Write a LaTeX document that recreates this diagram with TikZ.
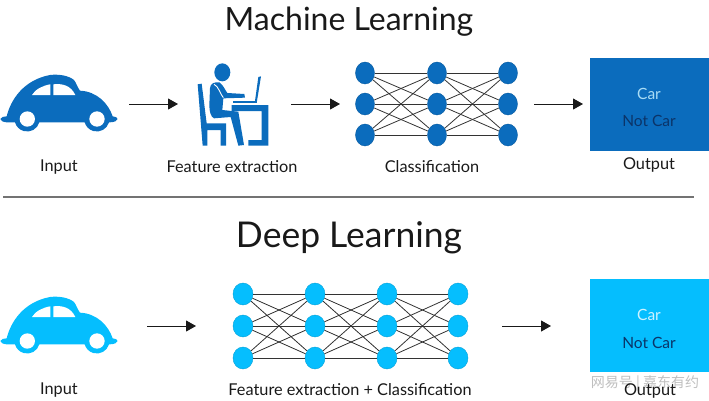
\documentclass[tikz,border=0pt]{standalone}
\usepackage{fontspec}
\setmainfont{Lato}
\newfontfamily\cjk{Noto Sans CJK SC}
\usetikzlibrary{arrows.meta,shapes.geometric}
\definecolor{mlblue}{HTML}{0B6CBD}
\definecolor{dlblue}{HTML}{05BEFE}
\definecolor{carlight}{HTML}{A9DCF5}
\definecolor{cardark}{HTML}{0B3468}
\tikzset{
    neuron/.style={ellipse, fill=#1, draw=#1!85!black, line width=0.4pt, inner sep=0pt, minimum width=19pt, minimum height=22pt},
    link/.style={draw=black!80, line width=0.8pt},
    flow/.style={-{Triangle[length=10pt,width=11pt]}, line width=1pt, black!90},
    title/.style={text=black!90},
    label/.style={font=\fontsize{16.3}{18}\selectfont, text=black!90},
    boxtext/.style={font=\fontsize{15.5}{18}\selectfont},
    pics/carshape/.style={code={
        \fill[#1] (1,207) .. controls (3,201) and (12,199) .. (20,199)
            .. controls (32,150) and (70,90) .. (150,75)
            .. controls (175,72) and (205,76) .. (222,90)
            .. controls (230,100) and (232,112) .. (240,122)
            .. controls (290,124) and (325,160) .. (338,199)
            .. controls (346,199) and (352,203) .. (353,207)
            .. controls (352,213) and (344,216) .. (330,217)
            -- (327,217) arc[start angle=16, end angle=164, radius=38]
            -- (118,217) arc[start angle=16, end angle=164, radius=38]
            -- (20,217) .. controls (10,216) and (2,213) .. (1,207) -- cycle;
        \fill[white] (82,207) circle[radius=23] (291,207) circle[radius=23];
        \fill[white] (96,135) .. controls (105,118) and (130,106) .. (151,103) -- (151,135) -- cycle;
        \fill[white] (160,103) .. controls (185,100) and (212,105) .. (226,135) -- (160,135) -- cycle;
    }},
    pics/deskman/.style={code={
        \fill[#1] (97,52) ellipse[x radius=24, y radius=27];
        \fill[#1] (60,100) .. controls (60,85) and (75,80) .. (88,82)
            .. controls (100,90) and (105,105) .. (112,114) -- (163,117) -- (165,128) -- (100,130)
            -- (97,165) -- (145,170) -- (162,270) -- (145,272) -- (122,186) -- (72,190)
            .. controls (62,185) and (58,170) .. (58,150) -- cycle;
        \draw[white, line width=0.9pt] (72,88) .. controls (85,92) and (92,120) .. (100,128);
        \fill[#1] (23,88) -- (35,86) -- (50,205) -- (108,205) -- (108,272) -- (92,272) -- (92,225)
            -- (52,225) -- (52,272) -- (38,272) -- cycle;
        \fill[#1] (205,66) -- (213,64) -- (201,138) -- (195,138) -- cycle;
        \fill[#1] (130,137) -- (200,137) -- (200,145) -- (130,145) -- cycle;
        \fill[#1] (125,150) -- (235,150) -- (235,272) -- (175,272) -- (175,255) -- (215,255) -- (215,168) -- (125,168) -- cycle;
    }},
}
\begin{document}
\begin{tikzpicture}[x=1pt,y=-1pt]
    \useasboundingbox (0,0) rectangle (709,400);

    % machine learning
    \node[title, font=\fontsize{32}{36}\selectfont] (mltitle) at (349,22) {Machine Learning};
    \pic[scale=1/3] (mlcar) at (0,50) {carshape=mlblue};
    \pic[scale=1/3] (mlman) at (190,55) {deskman=mlblue};
    \foreach \c/\x in {1/365,2/437,3/508}
        \foreach \r/\y in {1/73,2/104,3/135}
            \node[neuron=mlblue] (m\c\r) at (\x,\y) {};
    \foreach \a/\b in {1/2,2/3}
        \foreach \i in {1,2,3}
            \foreach \j in {1,2,3}
                \draw[link] (m\a\i) -- (m\b\j);
    \node[rectangle, fill=mlblue, minimum width=119pt, minimum height=93pt, inner sep=0pt] (mlbox) at (649.5,104.5) {};
    \node[boxtext, text=carlight] (mlcarno) at (649,94) {Car};
    \node[boxtext, text=cardark] (mlnot) at (649,121) {Not Car};
    \coordinate (a1) at (129,104); \coordinate (a2) at (178,104);
    \coordinate (a3) at (291,104); \coordinate (a4) at (340,104);
    \coordinate (a5) at (534,104); \coordinate (a6) at (583,104);
    \draw[flow] (a1) -- (a2);
    \draw[flow] (a3) -- (a4);
    \draw[flow] (a5) -- (a6);
    \node[label] (mlin) at (59,167) {Input};
    \node[label] (mlfe) at (232,167) {Feature extraction};
    \node[label] (mlcl) at (432,167) {Classification};
    \node[label] (mlout) at (649,165) {Output};

    % divider
    \coordinate (d1) at (3,197); \coordinate (d2) at (694,197);
    \draw[black!55, line width=1.4pt] (d1) -- (d2);

    % deep learning
    \node[title, font=\fontsize{35.5}{40}\selectfont] (dltitle) at (349,238) {Deep Learning};
    \pic[scale=1/3] (dlcar) at (0,272) {carshape=dlblue};
    \foreach \c/\x in {1/243,2/315,3/387,4/458}
        \foreach \r/\y in {1/294,2/326,3/358}
            \node[neuron=dlblue, minimum width=20pt] (n\c\r) at (\x,\y) {};
    \foreach \a/\b in {1/2,2/3,3/4}
        \foreach \i in {1,2,3}
            \foreach \j in {1,2,3}
                \draw[link] (n\a\i) -- (n\b\j);
    \node[rectangle, fill=dlblue, minimum width=119pt, minimum height=93pt, inner sep=0pt] (dlbox) at (649.5,325.5) {};
    \node[boxtext, text=white!80!dlblue] (dlcarno) at (649,315) {Car};
    \node[boxtext, text=cardark] (dlnot) at (649,343) {Not Car};
    \coordinate (b1) at (147,326); \coordinate (b2) at (196,326);
    \coordinate (b3) at (502,326); \coordinate (b4) at (551,326);
    \draw[flow] (b1) -- (b2);
    \draw[flow] (b3) -- (b4);
    \node[font=\cjk\fontsize{14}{16}\selectfont, text=black!25] (mark) at (645,384) {网易号 | 嘉东有约};
    \node[label] (dlin) at (59,390) {Input};
    \node[label] (dlfc) at (350,390) {Feature extraction + Classification};
    \node[label] (dlout) at (650,391) {Output};
\end{tikzpicture}
\end{document}
